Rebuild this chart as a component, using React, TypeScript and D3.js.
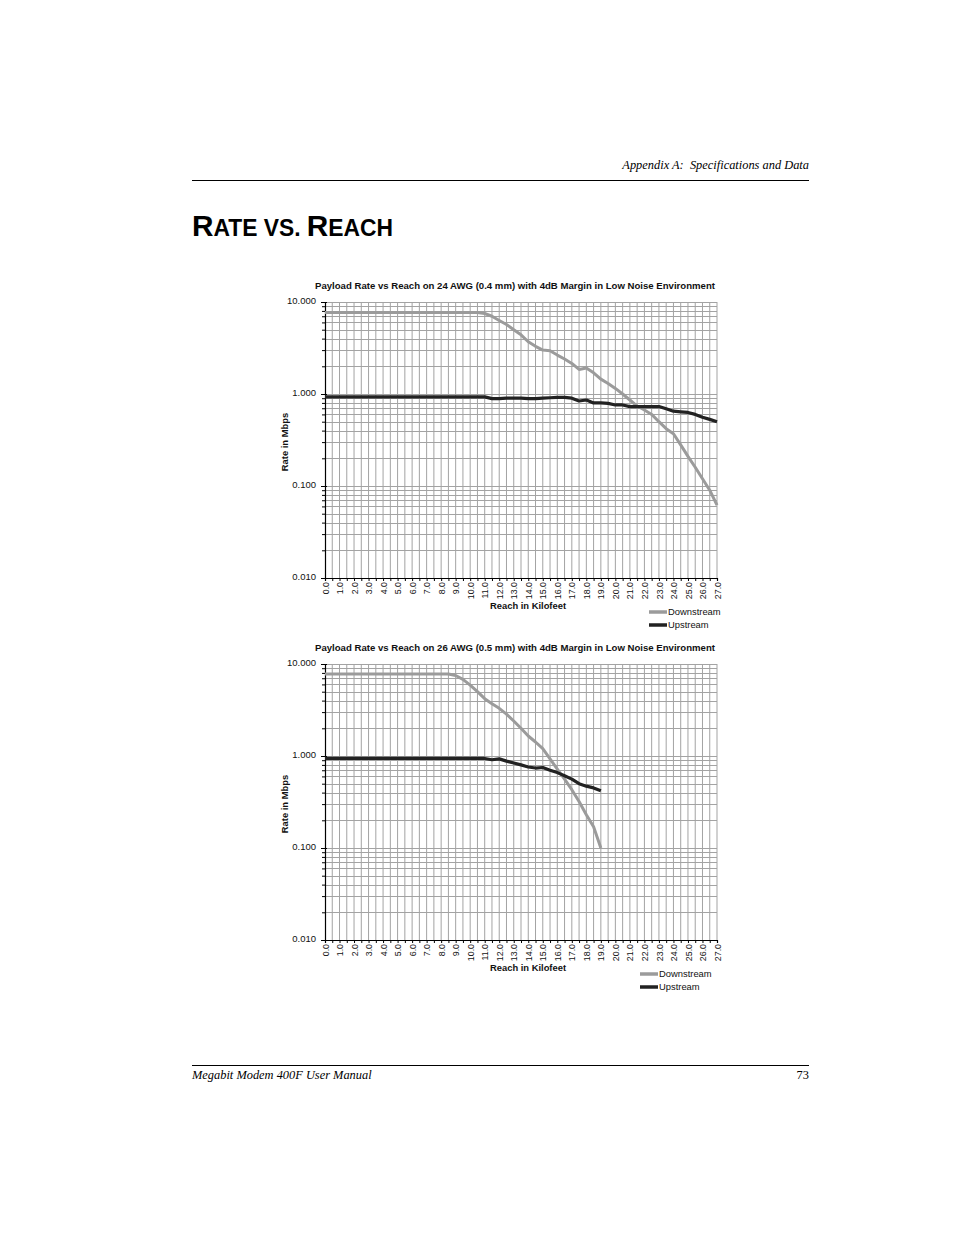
import { useEffect, useRef } from 'react'
import * as d3 from 'd3'

// reach categories in kilofeet (one every 0.5 kft, labels on whole numbers)
const reachKft = [
  0, 0.5, 1, 1.5, 2, 2.5, 3, 3.5, 4, 4.5, 5, 5.5, 6, 6.5, 7, 7.5, 8, 8.5, 9, 9.5,
  10, 10.5, 11, 11.5, 12, 12.5, 13, 13.5, 14, 14.5, 15, 15.5, 16, 16.5, 17, 17.5,
  18, 18.5, 19, 19.5, 20, 20.5, 21, 21.5, 22, 22.5, 23, 23.5, 24, 24.5, 25, 25.5,
  26, 26.5, 27,
]
const reachTickLabels = [
  '0.0', '1.0', '2.0', '3.0', '4.0', '5.0', '6.0', '7.0', '8.0', '9.0', '10.0',
  '11.0', '12.0', '13.0', '14.0', '15.0', '16.0', '17.0', '18.0', '19.0', '20.0',
  '21.0', '22.0', '23.0', '24.0', '25.0', '26.0', '27.0',
]
const rateTicks = [10, 1, 0.1, 0.01]
const rateTickLabels = ['10.000', '1.000', '0.100', '0.010']

// 24 AWG (0.4 mm), Mbps
const awg24Downstream = [
  7.7, 7.7, 7.7, 7.7, 7.7, 7.7, 7.7, 7.7, 7.7, 7.7, 7.7, 7.7, 7.7, 7.7, 7.7, 7.7,
  7.7, 7.7, 7.7, 7.7, 7.7, 7.7, 7.5, 7.0, 6.3, 5.7, 5.0, 4.4, 3.7, 3.3, 3.0, 2.95,
  2.65, 2.4, 2.15, 1.85, 1.92, 1.7, 1.45, 1.3, 1.15, 1.0, 0.86, 0.74, 0.67, 0.6,
  0.5, 0.42, 0.37, 0.28, 0.21, 0.16, 0.12, 0.09, 0.062,
]
const awg24Upstream = [
  0.93, 0.93, 0.93, 0.93, 0.93, 0.93, 0.93, 0.93, 0.93, 0.93, 0.93, 0.93, 0.93,
  0.93, 0.93, 0.93, 0.93, 0.93, 0.93, 0.93, 0.93, 0.93, 0.93, 0.89, 0.89, 0.9,
  0.9, 0.9, 0.89, 0.89, 0.9, 0.91, 0.92, 0.92, 0.9, 0.84, 0.86, 0.8, 0.8, 0.79,
  0.76, 0.76, 0.73, 0.73, 0.73, 0.73, 0.73, 0.69, 0.65, 0.64, 0.63, 0.6, 0.56,
  0.53, 0.5,
]

// 26 AWG (0.5 mm), Mbps, reach 0 .. 19 kft
const awg26Downstream = [
  7.8, 7.8, 7.8, 7.8, 7.8, 7.8, 7.8, 7.8, 7.8, 7.8, 7.8, 7.8, 7.8, 7.8, 7.8, 7.8,
  7.8, 7.8, 7.5, 6.8, 5.9, 5.0, 4.2, 3.7, 3.3, 2.85, 2.4, 2.0, 1.65, 1.42, 1.2,
  0.93, 0.72, 0.56, 0.43, 0.32, 0.23, 0.17, 0.1,
]
const awg26Upstream = [
  0.94, 0.94, 0.94, 0.94, 0.94, 0.94, 0.94, 0.94, 0.94, 0.94, 0.94, 0.94, 0.94,
  0.94, 0.94, 0.94, 0.94, 0.94, 0.94, 0.94, 0.94, 0.94, 0.94, 0.91, 0.93, 0.88,
  0.84, 0.8, 0.76, 0.74, 0.75, 0.7, 0.66, 0.61, 0.56, 0.5, 0.47, 0.45, 0.42,
]

const SANS = "'Liberation Sans', Arial, Helvetica, sans-serif"
const SERIF = "'Liberation Serif', 'Times New Roman', serif"
const GRAY = '#9b9b9b'
const DARK = '#222222'

interface RateChartProps {
  title: string
  top: number
  legendX: number
  downstream: number[]
  upstream: number[]
}

function RateChart({ title, top, legendX, downstream, upstream }: RateChartProps) {
  const gRef = useRef<SVGGElement>(null)

  useEffect(() => {
    if (!gRef.current) return
    const g = d3.select(gRef.current)
    g.selectAll('*').remove()

    const left = 325
    const right = 717
    const bottom = top + 276

    const x = d3.scaleLinear().domain([0, 27]).range([left, right])
    const y = d3.scaleLog().domain([0.01, 10]).range([bottom, top])

    // grid
    const grid = g.append('g').attr('stroke', '#a3a3a3').attr('stroke-width', 1)
    grid.selectAll('line.h')
      .data(y.ticks())
      .join('line')
      .attr('class', 'h')
      .attr('x1', left)
      .attr('x2', right)
      .attr('y1', d => Math.round(y(d)) + 0.5)
      .attr('y2', d => Math.round(y(d)) + 0.5)
    grid.selectAll('line.v')
      .data(reachKft.slice(1))
      .join('line')
      .attr('class', 'v')
      .attr('x1', d => x(d))
      .attr('x2', d => x(d))
      .attr('y1', top)
      .attr('y2', bottom)

    // y axis
    const yAxis = g.append('g')
      .attr('transform', `translate(${left},0)`)
      .call(
        d3.axisLeft(y)
          .tickValues(y.ticks())
          .tickSize(3)
          .tickFormat(() => '')
      )
    yAxis.select('.domain').attr('stroke', '#000').attr('stroke-width', 1.2)
    yAxis.selectAll('.tick line').attr('stroke', '#000')
    yAxis.selectAll('.tick text').remove()

    const yMajor = g.append('g')
      .attr('transform', `translate(${left},0)`)
      .call(
        d3.axisLeft(y)
          .tickValues(rateTicks)
          .tickSize(4)
          .tickPadding(5)
          .tickFormat((_, i) => rateTickLabels[i])
      )
    yMajor.select('.domain').remove()
    yMajor.selectAll('.tick line').attr('stroke', '#000').attr('x2', -4).attr('x1', 2)
    yMajor.selectAll('.tick text')
      .attr('font-family', SANS)
      .attr('font-size', 9.5)
      .attr('fill', '#111')
      .attr('dy', '0.2em')

    // x axis
    const xAxis = g.append('g')
      .attr('transform', `translate(0,${bottom})`)
      .call(
        d3.axisBottom(x)
          .tickValues(reachKft)
          .tickSize(3)
          .tickFormat(d => {
            const v = +d
            return Number.isInteger(v) ? reachTickLabels[v] : ''
          })
      )
    xAxis.select('.domain').attr('stroke', '#000').attr('stroke-width', 1.2)
    xAxis.selectAll('.tick line').attr('stroke', '#000')
    xAxis.selectAll('.tick text')
      .attr('font-family', SANS)
      .attr('font-size', 8.8)
      .attr('fill', '#111')
      .attr('transform', 'rotate(-90)')
      .attr('text-anchor', 'end')
      .attr('x', -4)
      .attr('y', 0)
      .attr('dy', '0.35em')

    // series
    const line = d3.line<number>()
      .x((_, i) => x(reachKft[i]))
      .y(d => y(d))

    g.append('path')
      .datum(downstream)
      .attr('fill', 'none')
      .attr('stroke', GRAY)
      .attr('stroke-width', 3)
      .attr('stroke-linejoin', 'round')
      .attr('d', line)

    g.append('path')
      .datum(upstream)
      .attr('fill', 'none')
      .attr('stroke', DARK)
      .attr('stroke-width', 3.2)
      .attr('stroke-linejoin', 'round')
      .attr('d', line)

    // titles
    g.append('text')
      .attr('x', 515)
      .attr('y', top - 13)
      .attr('text-anchor', 'middle')
      .attr('font-family', SANS)
      .attr('font-weight', 'bold')
      .attr('font-size', 9.6)
      .attr('fill', '#111')
      .text(title)

    g.append('text')
      .attr('transform', `translate(288,${top + 140}) rotate(-90)`)
      .attr('text-anchor', 'middle')
      .attr('font-family', SANS)
      .attr('font-weight', 'bold')
      .attr('font-size', 9.4)
      .attr('fill', '#111')
      .text('Rate in Mbps')

    g.append('text')
      .attr('x', 528)
      .attr('y', bottom + 31)
      .attr('text-anchor', 'middle')
      .attr('font-family', SANS)
      .attr('font-weight', 'bold')
      .attr('font-size', 9.4)
      .attr('fill', '#111')
      .text('Reach in Kilofeet')

    // legend
    const legend = g.append('g').attr('transform', `translate(${legendX},${bottom + 34})`)
    const items = [
      { name: 'Downstream', color: GRAY },
      { name: 'Upstream', color: DARK },
    ]
    items.forEach((it, i) => {
      legend.append('line')
        .attr('x1', 0)
        .attr('x2', 18)
        .attr('y1', i * 13)
        .attr('y2', i * 13)
        .attr('stroke', it.color)
        .attr('stroke-width', 3.5)
      legend.append('text')
        .attr('x', 19)
        .attr('y', i * 13)
        .attr('dy', '0.35em')
        .attr('font-family', SANS)
        .attr('font-size', 9.4)
        .attr('fill', '#111')
        .text(it.name)
    })
  }, [title, top, legendX, downstream, upstream])

  return <g ref={gRef} />
}

export default function App() {
  return (
    <svg
      width={954}
      height={1235}
      style={{ position: 'absolute', left: 0, top: 0, background: '#fff' }}
    >
      <text
        x={809}
        y={169}
        textAnchor="end"
        fontFamily={SERIF}
        fontStyle="italic"
        fontSize={12.4}
        style={{ whiteSpace: 'pre' }}
      >
        {'Appendix A:  Specifications and Data'}
      </text>
      <line x1={192} x2={809} y1={180.5} y2={180.5} stroke="#000" strokeWidth={1} />
      <text
        x={192}
        y={236}
        fontFamily="'Liberation Sans Narrow', 'Liberation Sans', Arial, sans-serif"
        fontWeight="bold"
        textLength={201}
        lengthAdjust="spacingAndGlyphs"
      >
        <tspan fontSize={30}>R</tspan>
        <tspan fontSize={23}>ATE VS. </tspan>
        <tspan fontSize={30}>R</tspan>
        <tspan fontSize={23}>EACH</tspan>
      </text>

      <RateChart
        title="Payload Rate vs Reach on 24 AWG (0.4 mm) with 4dB Margin in Low Noise Environment"
        top={302}
        legendX={649}
        downstream={awg24Downstream}
        upstream={awg24Upstream}
      />
      <RateChart
        title="Payload Rate vs Reach on 26 AWG (0.5 mm) with 4dB Margin in Low Noise Environment"
        top={664}
        legendX={640}
        downstream={awg26Downstream}
        upstream={awg26Upstream}
      />

      <line x1={192} x2={809} y1={1065.5} y2={1065.5} stroke="#000" strokeWidth={1} />
      <text x={192} y={1079} fontFamily={SERIF} fontStyle="italic" fontSize={12.4}>
        Megabit Modem 400F User Manual
      </text>
      <text x={809} y={1079} textAnchor="end" fontFamily={SERIF} fontSize={12.4}>
        73
      </text>
    </svg>
  )
}
